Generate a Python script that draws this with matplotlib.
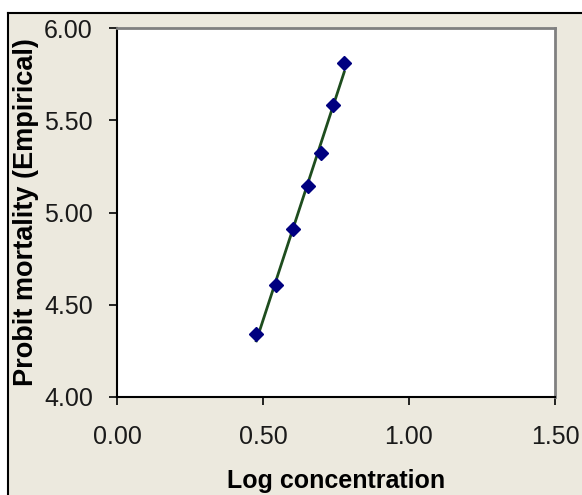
import numpy as np
import matplotlib.pyplot as plt
from matplotlib.patches import Rectangle

# probit data
log_conc = [0.477, 0.544, 0.602, 0.653, 0.699, 0.740, 0.778]
probit = [4.34, 4.607, 4.909, 5.144, 5.322, 5.583, 5.809]

x_ticks = [0.0, 0.5, 1.0, 1.5]
y_ticks = [4.0, 4.5, 5.0, 5.5, 6.0]

W, H = 582, 495
BG = '#ECE9DE'

plt.rcParams['font.family'] = ['Liberation Sans', 'DejaVu Sans']

fig = plt.figure(figsize=(W / 100, H / 100), dpi=100, facecolor='white')

# beige chart area with black frame on top / left
fig.add_artist(Rectangle((8 / W, 0), 1 - 8 / W, 1 - 13 / H,
                         transform=fig.transFigure, facecolor=BG,
                         edgecolor='none', zorder=-5))
fig.add_artist(plt.Line2D([8 / W, 1], [1 - 13 / H, 1 - 13 / H],
                          transform=fig.transFigure, color='black', lw=1.5,
                          zorder=-4))
fig.add_artist(plt.Line2D([8 / W, 8 / W], [0, 1 - 13 / H],
                          transform=fig.transFigure, color='black', lw=1.5,
                          zorder=-4))

left, right, top, bottom = 117, 555, 28, 397
ax = fig.add_axes([left / W, 1 - bottom / H, (right - left) / W, (bottom - top) / H])
ax.set_zorder(5)
ax.set_facecolor('white')

# regression line
slope, icpt = np.polyfit(log_conc, probit, 1)
xs = np.array([min(log_conc), max(log_conc)])
ax.plot(xs, slope * xs + icpt, color='#1E4D1E', lw=2.0, zorder=2)
ax.plot(log_conc, probit, linestyle='none', marker='D', markersize=7,
        color='#000080', zorder=3)

ax.set_xlim(0, 1.5)
ax.set_ylim(4, 6)
ax.set_xticks(x_ticks)
ax.set_yticks(y_ticks)
ax.set_xticklabels([f'{v:.2f}' for v in x_ticks])
ax.set_yticklabels([f'{v:.2f}' for v in y_ticks])
ax.tick_params(direction='out', length=5.8, width=1.2, labelsize=18,
               colors='black', labelcolor='#1a1a1a')
ax.tick_params(axis='x', pad=14)
ax.tick_params(axis='y', pad=11.5)

for s in ['left', 'bottom']:
    ax.spines[s].set_color('black')
    ax.spines[s].set_linewidth(1.5)
for s in ['top', 'right']:
    ax.spines[s].set_color('#808080')
    ax.spines[s].set_linewidth(2.0)

ax.set_xlabel('Log concentration', fontsize=18, fontweight='bold', labelpad=15)
ax.set_ylabel('Probit mortality (Empirical)', fontsize=19.5, fontweight='bold',
              labelpad=4)

fig.savefig('out.png', dpi=100, facecolor='white')
